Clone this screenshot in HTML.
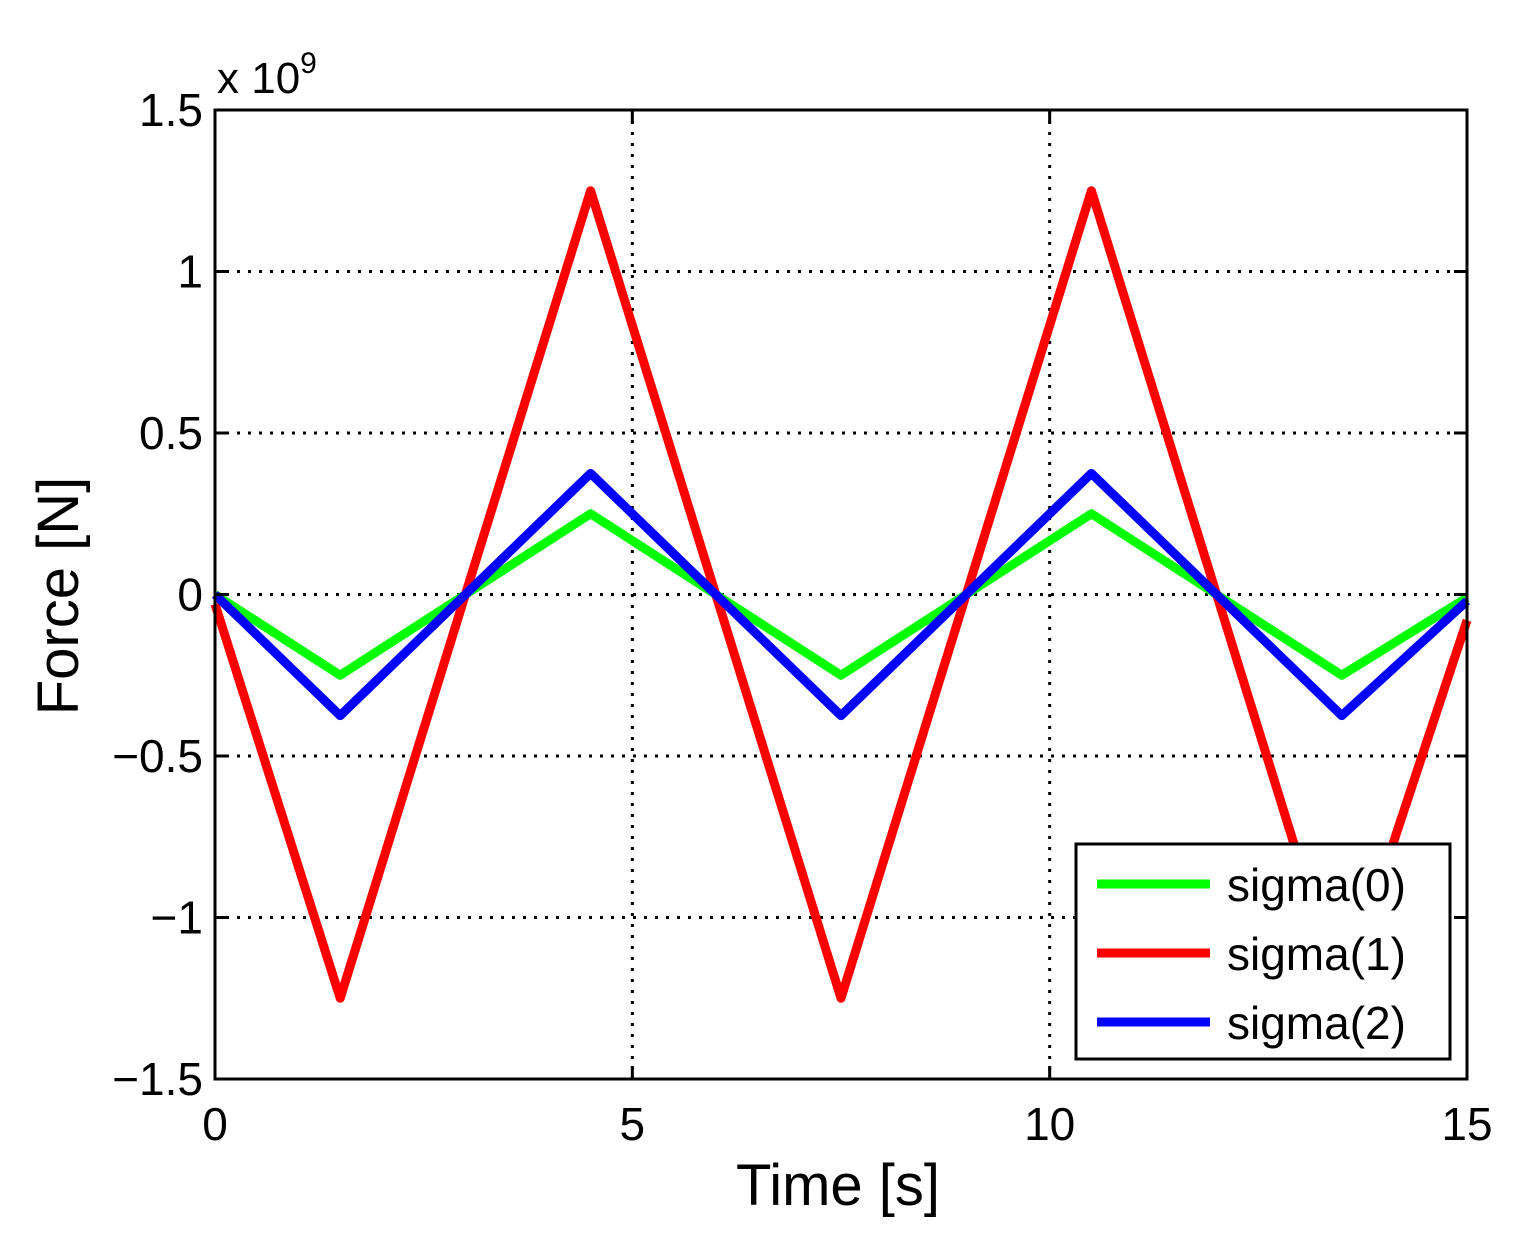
<!DOCTYPE html>
<html><head><meta charset="utf-8">
<style>
html,body{margin:0;padding:0;background:#fff;}
svg{display:block;font-family:"Liberation Sans",sans-serif;}
</style></head>
<body>
<svg id="chart" width="1533" height="1243" viewBox="0 0 1533 1243">
<rect width="1533" height="1243" fill="#fff"/>
<g id="grid"></g>
<g id="series"></g>
<rect x="215" y="110" width="1252" height="969" fill="none" stroke="#000" stroke-width="3"/>
<g id="ticks"></g>
<text x="217" y="93" font-size="44">x 10<tspan dy="-20" font-size="30">9</tspan></text>
<text x="838" y="1205" font-size="58" text-anchor="middle">Time [s]</text>
<text transform="translate(78,596) rotate(-90)" font-size="58" text-anchor="middle">Force [N]</text>
<g>
<rect x="1076" y="844" width="374" height="215" fill="#fff" stroke="#000" stroke-width="3"/>
<g><line x1="1097" y1="884" x2="1210" y2="884" stroke="#00ff00" stroke-width="9"/><text x="1227" y="901" font-size="46">sigma(0)</text></g>
<g><line x1="1097" y1="953" x2="1210" y2="953" stroke="#ff0000" stroke-width="9"/><text x="1227" y="970" font-size="46">sigma(1)</text></g>
<g><line x1="1097" y1="1022" x2="1210" y2="1022" stroke="#0000ff" stroke-width="9"/><text x="1227" y="1039" font-size="46">sigma(2)</text></g>
</g>
</svg>
<script>
const times = [0, 1.5, 4.5, 7.5, 10.5, 13.5, 15];
const sigma0 = [0, -0.25, 0.25, -0.25, 0.25, -0.25, -0.01];
const sigma1 = [-0.03, -1.25, 1.25, -1.25, 1.25, -1.25, -0.08];
const sigma2 = [0, -0.375, 0.375, -0.375, 0.375, -0.375, -0.02];
const xTicks = [0, 5, 10, 15];
const yTicks = [-1.5, -1, -0.5, 0, 0.5, 1, 1.5];
const yTickLabels = ["\u22121.5", "\u22121", "\u22120.5", "0", "0.5", "1", "1.5"];

const NS = "http://www.w3.org/2000/svg";
function X(v){ return 215 + (v - 0) / 15 * 1252; }
function Y(v){ return 1079 - (v + 1.5) / 3 * 969; }
function mk(tag, attrs, parent){ const e = document.createElementNS(NS, tag); for (const k in attrs) e.setAttribute(k, attrs[k]); parent.appendChild(e); return e; }

const grid = document.getElementById('grid');
const ticks = document.getElementById('ticks');
xTicks.forEach(function(t){
  const x = X(t);
  if (t > 0 && t < 15) {
    const g = mk('line', {x1:x, y1:110, x2:x, y2:1079, stroke:'#000', 'stroke-width':3, 'stroke-dasharray':'3 8'}, grid);
    
    
  }
  mk('line', {x1:x, y1:1079, x2:x, y2:1066, stroke:'#000', 'stroke-width':3}, ticks);
  mk('line', {x1:x, y1:110, x2:x, y2:123, stroke:'#000', 'stroke-width':3}, ticks);
  const lb = mk('text', {x:x, y:1140, 'font-size':46, 'text-anchor':'middle'}, ticks);
  lb.textContent = t;
  
  
});
yTicks.forEach(function(t, i){
  const y = Y(t);
  if (t > -1.5 && t < 1.5) {
    const g = mk('line', {x1:215, y1:y, x2:1467, y2:y, stroke:'#000', 'stroke-width':3, 'stroke-dasharray':'3 8'}, grid);
    
    
  }
  mk('line', {x1:215, y1:y, x2:228, y2:y, stroke:'#000', 'stroke-width':3}, ticks);
  mk('line', {x1:1467, y1:y, x2:1454, y2:y, stroke:'#000', 'stroke-width':3}, ticks);
  const lb = mk('text', {x:203, y:y + 16, 'font-size':46, 'text-anchor':'end'}, ticks);
  lb.textContent = yTickLabels[i];
  
  
});

const seriesG = document.getElementById('series');
[[sigma0, '#00ff00', 'line-sigma0'], [sigma1, '#ff0000', 'line-sigma1'], [sigma2, '#0000ff', 'line-sigma2']].forEach(function(s){
  const pts = times.map(function(t, i){ return X(t) + ',' + Y(s[0][i]); }).join(' ');
  const pl = mk('polyline', {points:pts, fill:'none', stroke:s[1], 'stroke-width':9, 'stroke-linejoin':'round'}, seriesG);
  
  
});
</script>
</body></html>
